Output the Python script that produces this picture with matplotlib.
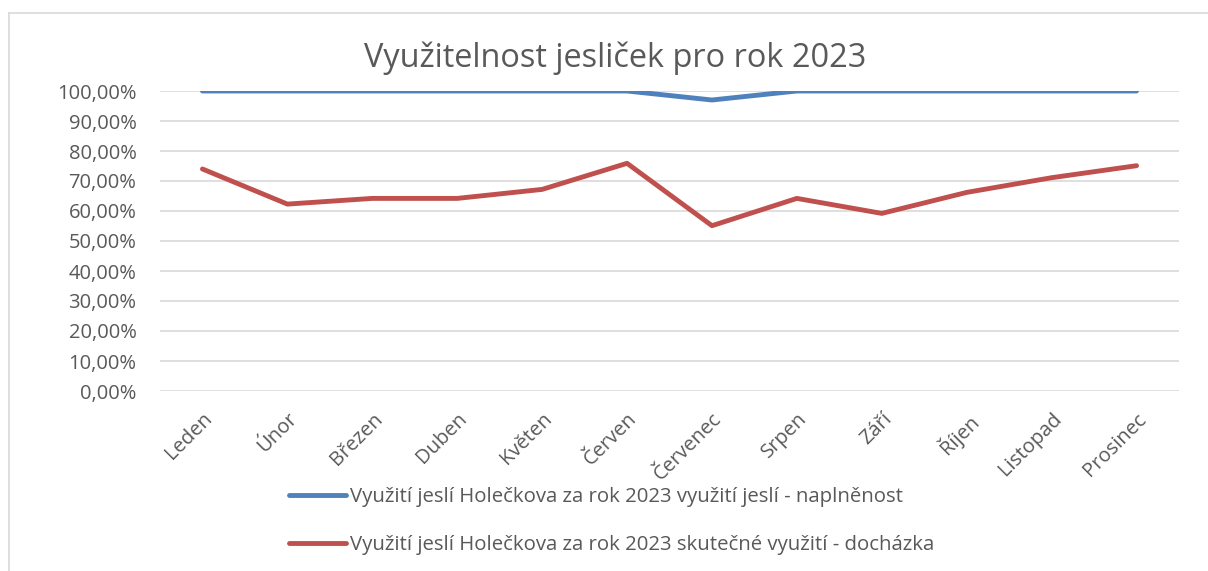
import matplotlib
matplotlib.use("Agg")
import matplotlib.pyplot as plt
from matplotlib.ticker import FuncFormatter, MultipleLocator
from matplotlib.lines import Line2D

months = ["Leden", "Únor", "Březen", "Duben", "Květen", "Červen",
          "Červenec", "Srpen", "Září", "Říjen", "Listopad", "Prosinec"]
naplnenost = [1.00, 1.00, 1.00, 1.00, 1.00, 1.00, 0.97, 1.00, 1.00, 1.00, 1.00, 1.00]
dochazka = [0.74, 0.623, 0.642, 0.642, 0.672, 0.759, 0.551, 0.642, 0.592, 0.662, 0.711, 0.751]
series_names = ["Využití jeslí Holečkova za rok 2023 využití jeslí - naplněnost",
                "Využití jeslí Holečkova za rok 2023 skutečné využití - docházka"]
title = "Využitelnost jesliček pro rok 2023"

W, H = 1208, 571
plt.rcParams['font.family'] = ['Open Sans', 'DejaVu Sans']
fig = plt.figure(figsize=(W / 100, H / 100), dpi=100)
fig.patch.set_facecolor("white")

# chart border (left and top visible)
fig.add_artist(Line2D([9 / W, 9 / W], [0, 1 - 13 / H], transform=fig.transFigure,
                      color="#d9d9d9", lw=1.2))
fig.add_artist(Line2D([9 / W, 1], [1 - 13 / H, 1 - 13 / H], transform=fig.transFigure,
                      color="#d9d9d9", lw=1.2))

left, right = 160, 1179
top, bottom = 91, 391
ax = fig.add_axes([left / W, 1 - bottom / H, (right - left) / W, (bottom - top) / H])
x = range(len(months))
ax.plot(x, naplnenost, color="#4f81bd", lw=3.5, solid_capstyle="round", zorder=3)
ax.plot(x, dochazka, color="#c0504d", lw=3.5, solid_capstyle="round", zorder=3)
ax.set_xlim(-0.5, len(months) - 0.5)
ax.set_ylim(0, 1)
ax.yaxis.set_major_locator(MultipleLocator(0.1))
ax.yaxis.set_major_formatter(FuncFormatter(lambda v, p: f"{v * 100:.2f}".replace(".", ",") + "%"))
ax.grid(axis="y", color="#d9d9d9", lw=1.2)
ax.set_axisbelow(True)
for s in ax.spines.values():
    s.set_visible(False)
ax.set_xticks(list(x))
ax.set_xticklabels(months, rotation=45, ha="right", rotation_mode="anchor")
ax.xaxis.set_tick_params(length=0, colors="#595959", labelsize=14.5, pad=13)
ax.yaxis.set_tick_params(length=0, colors="#595959", labelsize=14.5, pad=17)

fig.text(615 / W, 1 - 58 / H, title, ha="center", va="center", fontsize=23.4, color="#595959")

handles = [Line2D([], [], color="#4f81bd", lw=3.5, solid_capstyle="round"),
           Line2D([], [], color="#c0504d", lw=3.5, solid_capstyle="round")]
leg = fig.legend(handles, series_names, loc="center", bbox_to_anchor=(612 / W, 1 - 521 / H),
                 ncol=1, frameon=False, fontsize=14.7, handlelength=2.8, handletextpad=0.2,
                 labelspacing=1.35, labelcolor="#595959", borderpad=0, borderaxespad=0)

fig.savefig("out.png", dpi=100)
